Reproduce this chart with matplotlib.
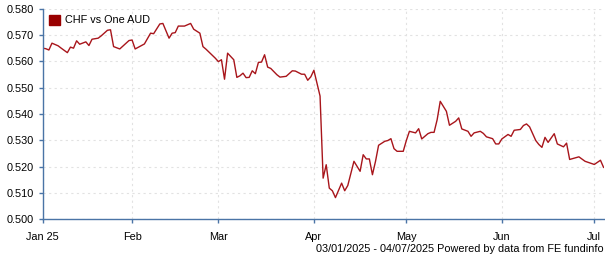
import pandas as pd
import matplotlib
matplotlib.use('Agg')
import matplotlib.pyplot as plt
from matplotlib.patches import Patch

## CHF vs One AUD, daily rate 03/01/2025 - 04/07/2025
start = pd.Timestamp('2025-01-03')
end = pd.Timestamp('2025-07-04')

# days since 3 Jan 2025
day_offsets = [
    0, 1, 2, 3, 5, 6, 8, 9, 10, 11, 12, 14, 15, 16, 18, 19, 21, 22, 23, 25,
    28, 29, 30, 33, 35, 36, 38, 39, 41, 42, 43, 44, 46, 48, 49, 51, 52, 53, 56, 57,
    58, 59, 60, 62, 63, 64, 65, 66, 67, 68, 69, 70, 71, 72, 73, 74, 76, 77, 79, 81,
    82, 84, 85, 86, 87, 88, 90, 91, 92, 93, 94, 95, 97, 98, 99, 101, 103, 104, 105, 106,
    107, 108, 109, 111, 112, 113, 114, 115, 117, 118, 119, 121, 122, 123, 125, 126, 127, 128, 129, 131,
    132, 134, 135, 136, 138, 139, 140, 142, 143, 144, 146, 147, 148, 149, 151, 152, 153, 155, 156, 157,
    158, 160, 161, 162, 163, 164, 166, 167, 169, 170, 171, 174, 176, 179, 181, 182,
]
rates = [
    0.5650, 0.5648, 0.5643, 0.5669, 0.5659, 0.5650, 0.5633, 0.5654, 0.5650, 0.5678,
    0.5665, 0.5674, 0.5660, 0.5684, 0.5688, 0.5697, 0.5718, 0.5720, 0.5656, 0.5647,
    0.5679, 0.5681, 0.5647, 0.5666, 0.5707, 0.5705, 0.5742, 0.5744, 0.5688, 0.5707,
    0.5709, 0.5734, 0.5734, 0.5744, 0.5722, 0.5707, 0.5656, 0.5646, 0.5612, 0.5599,
    0.5606, 0.5532, 0.5631, 0.5606, 0.5539, 0.5545, 0.5555, 0.5538, 0.5539, 0.5564,
    0.5553, 0.5596, 0.5597, 0.5625, 0.5578, 0.5573, 0.5549, 0.5540, 0.5543, 0.5564,
    0.5563, 0.5551, 0.5551, 0.5528, 0.5541, 0.5566, 0.5468, 0.5156, 0.5207, 0.5118,
    0.5108, 0.5082, 0.5137, 0.5108, 0.5128, 0.5220, 0.5182, 0.5245, 0.5229, 0.5229,
    0.5169, 0.5220, 0.5281, 0.5296, 0.5299, 0.5306, 0.5268, 0.5258, 0.5258, 0.5299,
    0.5334, 0.5328, 0.5344, 0.5305, 0.5325, 0.5330, 0.5330, 0.5378, 0.5448, 0.5410,
    0.5357, 0.5372, 0.5385, 0.5343, 0.5334, 0.5315, 0.5328, 0.5334, 0.5326, 0.5313,
    0.5306, 0.5286, 0.5286, 0.5305, 0.5322, 0.5315, 0.5338, 0.5341, 0.5356, 0.5362,
    0.5351, 0.5299, 0.5284, 0.5273, 0.5311, 0.5292, 0.5325, 0.5286, 0.5275, 0.5289,
    0.5227, 0.5237, 0.5220, 0.5208, 0.5224, 0.5197,
]

tick_dates = ['2025-01-03', '2025-02-01', '2025-03-01', '2025-04-01', '2025-05-01', '2025-06-01', '2025-07-01']
tick_labels = ['Jan 25', 'Feb', 'Mar', 'Apr', 'May', 'Jun', 'Jul']
y_ticks = [0.500, 0.510, 0.520, 0.530, 0.540, 0.550, 0.560, 0.570, 0.580]

series_name = 'CHF vs One AUD'
footer = '03/01/2025 - 04/07/2025 Powered by data from FE fundinfo'

line_color = '#a8151b'
axis_color = '#4a74a6'

plt.rcParams['font.family'] = ['Liberation Sans', 'DejaVu Sans']

dates = start + pd.to_timedelta(day_offsets, unit='D')

fig = plt.figure(figsize=(6.05, 2.6), dpi=100)
ax = fig.add_axes([0.0706, 0.157, 0.927, 0.8095])

ax.plot(dates, rates, color=line_color, linewidth=1.0)

ax.set_xlim(start, end)
ax.set_ylim(0.5, 0.58)
ax.set_yticks(y_ticks)
ax.set_yticklabels([f'{v:.3f}' for v in y_ticks])
ax.set_xticks(pd.to_datetime(tick_dates))
ax.set_xticklabels(tick_labels)

for side in ['top', 'right']:
    ax.spines[side].set_visible(False)
for side in ['left', 'bottom']:
    ax.spines[side].set_color(axis_color)
    ax.spines[side].set_linewidth(1.0)

ax.tick_params(axis='both', colors=axis_color, labelcolor='black', labelsize=7.8, length=3, width=1)
ax.tick_params(axis='x', pad=6)
ax.grid(True, color='#e2e2e2', linestyle=(0, (2, 3)), linewidth=0.8)
ax.set_axisbelow(True)

ax.legend(handles=[Patch(facecolor='#990000', edgecolor='#990000', label=series_name)],
          loc='upper left', frameon=False, fontsize=7.8, handlelength=1.05, handleheight=1.05,
          handletextpad=0.45, borderaxespad=0.15, bbox_to_anchor=(0.0, 1.0))

fig.text(0.998, 0.042, footer, ha='right', va='center', fontsize=7.8)

fig.savefig('out.png', dpi=100)
